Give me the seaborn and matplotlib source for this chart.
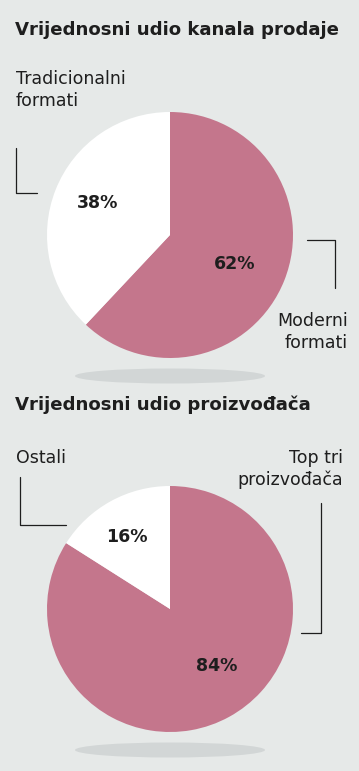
import matplotlib
matplotlib.use("Agg")
import matplotlib.pyplot as plt
import seaborn as sns
from matplotlib.patches import Ellipse

# podaci
titles = ["Vrijednosni udio kanala prodaje", "Vrijednosni udio proizvođača"]
kanali = ["Moderni\nformati", "Tradicionalni\nformati"]
kanali_udio = [62, 38]
proizvodaci = ["Top tri\nproizvođača", "Ostali"]
proizvodaci_udio = [84, 16]

W, H = 359, 771
bg = "#e6e9e8"
pink = "#c4768c"
shadow = "#d2d6d6"
ink = "#1e1e1e"

sns.set_theme(style="white")
plt.rcParams["font.family"] = ["DejaVu Sans"]

fig = plt.figure(figsize=(W / 100, H / 100), dpi=100, facecolor=bg)
ax = fig.add_axes([0, 0, 1, 1])
ax.set_facecolor(bg)


def py(y):
    # piksel odozgo -> koordinata odozdo
    return H - y


def draw_pie(values, cy, pct_pos):
    ax.add_patch(Ellipse((170, py(cy + 141)), 190, 15, color=shadow, lw=0))
    wedges, _ = ax.pie(values, colors=[pink, "white"], startangle=90,
                       counterclock=False, center=(170, py(cy)), radius=123,
                       wedgeprops=dict(linewidth=0))
    for v, (x, y) in zip(values, pct_pos):
        ax.text(x, py(y), f"{v}%", ha="center", va="center", fontsize=12.5,
                fontweight="heavy", color=ink, family="DejaVu Sans")


draw_pie(kanali_udio, 235, [(235, 264), (98, 203)])
draw_pie(proizvodaci_udio, 609, [(217, 666), (127, 537)])

ax.text(15, py(30), titles[0], fontsize=13.1, fontweight="bold", color=ink,
        va="center", ha="left")
ax.text(15, py(405), titles[1], fontsize=13.1, fontweight="bold", color=ink,
        va="center", ha="left")

lab = dict(fontsize=12.5, color=ink, linespacing=1.25)
ax.text(16, py(90), kanali[1], ha="left", va="center", **lab)
ax.text(348, py(332), kanali[0], ha="right", va="center", **lab,
        multialignment="right")
ax.text(16, py(458), proizvodaci[1], ha="left", va="center", **lab)
ax.text(343, py(469), proizvodaci[0], ha="right", va="center", **lab,
        multialignment="right")

# spojne linije
lk = dict(color=ink, lw=0.9)
ax.plot([16, 16, 37], [py(148), py(193), py(193)], **lk)
ax.plot([307, 335, 335], [py(240), py(240), py(288)], **lk)
ax.plot([20, 20, 66], [py(477), py(525), py(525)], **lk)
ax.plot([321, 321, 301], [py(503), py(633), py(633)], **lk)

ax.set_xlim(0, W)
ax.set_ylim(0, H)
ax.set_aspect("equal")
ax.axis("off")

fig.savefig("out.png", dpi=100, facecolor=bg)
